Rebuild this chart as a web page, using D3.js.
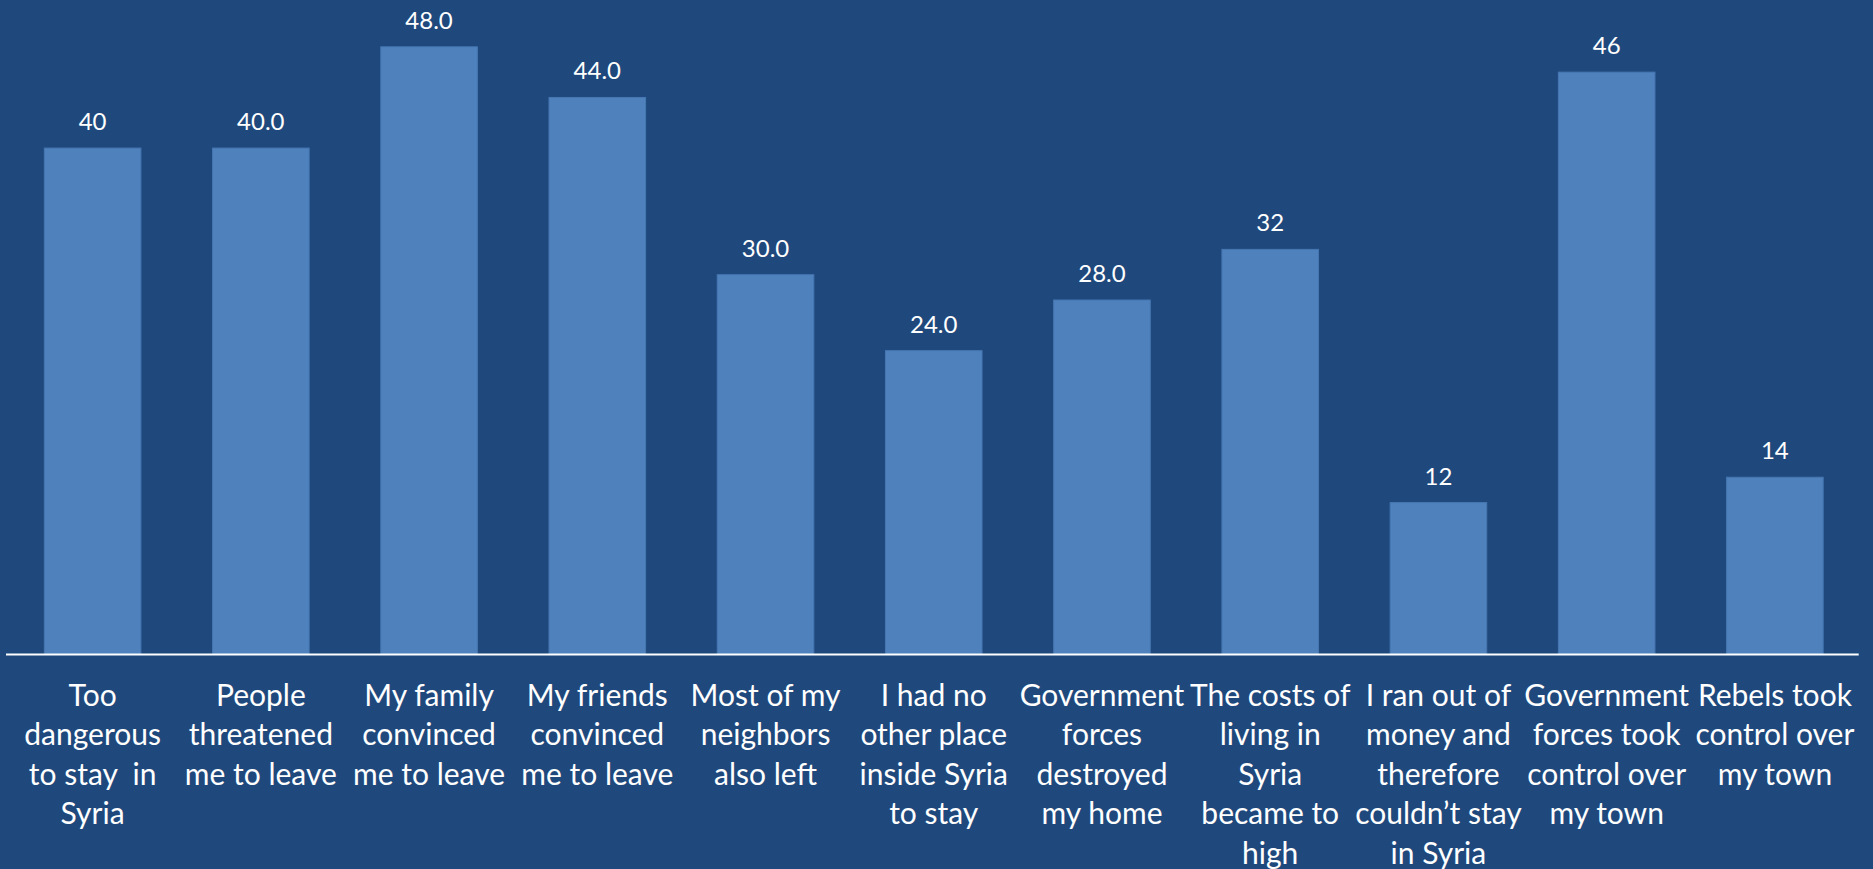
<!DOCTYPE html>
<html>
<head>
<meta charset="utf-8">
<script src="https://cdn.jsdelivr.net/npm/d3@7"></script>
<style>
  html, body { margin: 0; padding: 0; background: #1F497D; }
  svg { display: block; }
</style>
</head>
<body>
<script>
const categories = [
  "Too\ndangerous\nto stay  in\nSyria",
  "People\nthreatened\nme to leave",
  "My family\nconvinced\nme to leave",
  "My friends\nconvinced\nme to leave",
  "Most of my\nneighbors\nalso left",
  "I had no\nother place\ninside Syria\nto stay",
  "Government\nforces\ndestroyed\nmy home",
  "The costs of\nliving in\nSyria\nbecame to\nhigh",
  "I ran out of\nmoney and\ntherefore\ncouldn’t stay\nin Syria",
  "Government\nforces took\ncontrol over\nmy town",
  "Rebels took\ncontrol over\nmy town"
];
const values = [40, 40, 48, 44, 30, 24, 28, 32, 12, 46, 14];
const valueLabels = ["40", "40.0", "48.0", "44.0", "30.0", "24.0", "28.0", "32", "12", "46", "14"];

const W = 1873, H = 869;
const svg = d3.select("body").append("svg").attr("width", W).attr("height", H);
svg.append("rect").attr("width", W).attr("height", H).attr("fill", "#1F497D");

const baseY = 654.5;
const x = d3.scaleBand().domain(d3.range(categories.length)).range([8.5, 1859]).paddingInner(0.426).paddingOuter(0.213);
const y = d3.scaleLinear().domain([0, 50]).range([baseY, baseY - 50 * 12.66]);

svg.append("g").selectAll("rect").data(values).join("rect")
  .attr("x", (d, i) => x(i))
  .attr("y", d => y(d))
  .attr("width", x.bandwidth())
  .attr("height", d => y(0) - y(d))
  .attr("fill", "#4F81BD")
  .attr("stroke", "#4677B2")
  .attr("stroke-width", 1);

svg.append("line")
  .attr("x1", 6).attr("x2", 1858.7)
  .attr("y1", baseY).attr("y2", baseY)
  .attr("stroke", "#FFFFFF").attr("stroke-width", 2.2);

svg.append("g").selectAll("text").data(values).join("text")
  .attr("x", (d, i) => x(i) + x.bandwidth() / 2)
  .attr("y", d => y(d) - 18)
  .attr("text-anchor", "middle")
  .attr("fill", "#FFFFFF")
  .style("font-family", "Lato, 'Open Sans', sans-serif")
  .style("font-size", "24px")
  .text((d, i) => valueLabels[i]);

const lab = svg.append("g").selectAll("text").data(categories).join("text")
  .attr("text-anchor", "middle")
  .attr("fill", "#FFFFFF")
  .style("font-family", "Lato, 'Open Sans', sans-serif")
  .style("font-size", "30px")
  .attr("transform", (d, i) => `translate(${x(i) + x.bandwidth() / 2},706)`);
lab.each(function(d) {
  const t = d3.select(this);
  d.split("\n").forEach((line, j) => {
    t.append("tspan").attr("x", 0).attr("y", j * 39.4).attr("xml:space", "preserve").text(line);
  });
});
</script>
</body>
</html>
